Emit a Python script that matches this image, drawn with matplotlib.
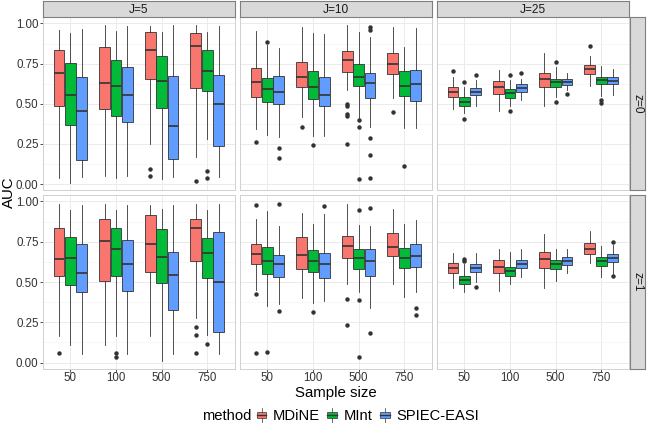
import matplotlib
matplotlib.use('Agg')
import matplotlib.pyplot as plt
from matplotlib.legend_handler import HandlerBase
from matplotlib.patches import Rectangle, Patch
from matplotlib.lines import Line2D

plt.rcParams['font.family'] = ['Liberation Sans', 'DejaVu Sans']

sample_sizes = [50, 100, 500, 750]
methods = ['MDiNE', 'MInt', 'SPIEC-EASI']
colors = ['#F8766D', '#00BA38', '#619CFF']
j_labels = ['J=5', 'J=10', 'J=25']
z_labels = ['z=0', 'z=1']
y_ticks = [0.0, 0.25, 0.5, 0.75, 1.0]
y_tick_labels = ['0.00', '0.25', '0.50', '0.75', '1.00']

# box summaries: whislo, q1, median, q3, whishi
# rows: 50 (MDiNE, MInt, SPIEC-EASI), 100 (...), 500 (...), 750 (...)
j5_z0 = [
    [0.035, 0.485, 0.689, 0.834, 0.958], [0.008, 0.367, 0.554, 0.751, 0.938], [0.046, 0.149, 0.456, 0.664, 0.963],
    [0.050, 0.467, 0.627, 0.855, 0.990], [0.040, 0.425, 0.610, 0.772, 0.954], [0.052, 0.388, 0.554, 0.730, 0.983],
    [0.249, 0.654, 0.834, 0.944, 0.983], [0.029, 0.471, 0.641, 0.797, 0.948], [0.046, 0.154, 0.363, 0.672, 0.988],
    [0.166, 0.595, 0.861, 0.938, 0.988], [0.278, 0.579, 0.705, 0.834, 0.944], [0.046, 0.237, 0.498, 0.678, 0.983],
]
j10_z0 = [
    [0.340, 0.539, 0.637, 0.724, 0.954], [0.305, 0.512, 0.589, 0.662, 0.865], [0.290, 0.496, 0.575, 0.672, 0.844],
    [0.419, 0.602, 0.664, 0.759, 0.979], [0.299, 0.527, 0.602, 0.703, 0.938], [0.299, 0.485, 0.554, 0.668, 0.932],
    [0.585, 0.699, 0.772, 0.828, 0.990], [0.409, 0.610, 0.664, 0.747, 0.944], [0.357, 0.537, 0.627, 0.689, 0.913],
    [0.533, 0.685, 0.747, 0.817, 0.975], [0.351, 0.550, 0.612, 0.703, 0.855], [0.346, 0.519, 0.620, 0.710, 0.969],
]
j25_z0 = [
    [0.465, 0.544, 0.575, 0.606, 0.668], [0.440, 0.485, 0.512, 0.539, 0.602], [0.485, 0.552, 0.575, 0.598, 0.647],
    [0.456, 0.558, 0.602, 0.641, 0.710], [0.485, 0.537, 0.564, 0.589, 0.647], [0.523, 0.573, 0.595, 0.620, 0.656],
    [0.485, 0.602, 0.653, 0.691, 0.817], [0.539, 0.606, 0.635, 0.656, 0.730], [0.585, 0.614, 0.635, 0.651, 0.693],
    [0.610, 0.685, 0.714, 0.739, 0.797], [0.548, 0.622, 0.647, 0.668, 0.734], [0.554, 0.622, 0.643, 0.668, 0.714],
]
j5_z1 = [
    [0.167, 0.538, 0.645, 0.835, 0.986], [0.109, 0.480, 0.652, 0.779, 0.944], [0.054, 0.435, 0.557, 0.738, 0.979],
    [0.109, 0.507, 0.753, 0.891, 0.986], [0.165, 0.536, 0.707, 0.837, 0.944], [0.054, 0.445, 0.610, 0.759, 0.979],
    [0.167, 0.563, 0.738, 0.918, 0.981], [0.012, 0.491, 0.656, 0.831, 0.955], [0.052, 0.326, 0.542, 0.687, 0.979],
    [0.274, 0.629, 0.835, 0.889, 0.986], [0.171, 0.522, 0.682, 0.775, 0.944], [0.052, 0.188, 0.501, 0.810, 0.986],
]
j10_z1 = [
    [0.449, 0.614, 0.672, 0.734, 0.893], [0.351, 0.548, 0.629, 0.718, 0.940], [0.361, 0.528, 0.614, 0.670, 0.845],
    [0.398, 0.581, 0.670, 0.779, 0.928], [0.367, 0.563, 0.631, 0.697, 0.858], [0.381, 0.522, 0.614, 0.682, 0.920],
    [0.485, 0.649, 0.724, 0.786, 0.986], [0.439, 0.581, 0.652, 0.705, 0.852], [0.336, 0.540, 0.631, 0.707, 0.845],
    [0.485, 0.662, 0.718, 0.806, 0.951], [0.408, 0.588, 0.649, 0.711, 0.862], [0.437, 0.594, 0.664, 0.738, 0.887],
]
j25_z1 = [
    [0.460, 0.553, 0.588, 0.621, 0.680], [0.435, 0.487, 0.515, 0.538, 0.614], [0.501, 0.563, 0.588, 0.614, 0.680],
    [0.445, 0.557, 0.594, 0.635, 0.703], [0.487, 0.536, 0.569, 0.594, 0.687], [0.528, 0.584, 0.614, 0.639, 0.707],
    [0.464, 0.590, 0.645, 0.687, 0.796], [0.507, 0.581, 0.614, 0.639, 0.705], [0.553, 0.606, 0.631, 0.656, 0.703],
    [0.619, 0.672, 0.707, 0.744, 0.816], [0.528, 0.602, 0.631, 0.656, 0.722], [0.550, 0.623, 0.652, 0.672, 0.728],
]

# outliers: (sample size, method index, AUC)
j5_z0_out = [(500, 0, 0.091), (500, 0, 0.052), (750, 0, 0.019), (750, 1, 0.083), (750, 1, 0.035)]
j10_z0_out = [(50, 0, 0.263), (50, 1, 0.886), (50, 2, 0.226), (50, 2, 0.160), (100, 0, 0.357),
              (100, 1, 0.243), (500, 0, 0.498), (500, 0, 0.485), (500, 0, 0.436), (500, 0, 0.425),
              (500, 0, 0.249), (500, 1, 0.398), (500, 1, 0.357), (500, 1, 0.029), (500, 2, 0.975),
              (500, 2, 0.959), (500, 2, 0.284), (500, 2, 0.180), (500, 2, 0.035), (750, 0, 0.446),
              (750, 1, 0.112)]
j25_z0_out = [(50, 0, 0.703), (50, 1, 0.635), (50, 1, 0.405), (50, 2, 0.676), (100, 1, 0.676),
              (100, 1, 0.454), (100, 2, 0.691), (500, 1, 0.759), (500, 1, 0.510), (500, 2, 0.560),
              (750, 0, 0.857), (750, 1, 0.523), (750, 1, 0.506)]
j5_z1_out = [(50, 0, 0.058), (100, 1, 0.058), (100, 1, 0.037), (750, 0, 0.219), (750, 0, 0.171),
             (750, 0, 0.058), (750, 1, 0.113)]
j10_z1_out = [(50, 0, 0.975), (50, 0, 0.423), (50, 0, 0.058), (50, 1, 0.066), (50, 2, 0.986),
              (50, 2, 0.320), (100, 1, 0.315), (100, 2, 0.969), (500, 0, 0.392), (500, 0, 0.233),
              (500, 1, 0.948), (500, 1, 0.388), (500, 1, 0.033), (500, 2, 0.961), (500, 2, 0.186),
              (750, 2, 0.340), (750, 2, 0.293)]
j25_z1_out = [(50, 1, 0.645), (50, 1, 0.629), (50, 2, 0.466), (750, 2, 0.746), (750, 2, 0.538)]

facets = [[(j5_z0, j5_z0_out), (j10_z0, j10_z0_out), (j25_z0, j25_z0_out)],
          [(j5_z1, j5_z1_out), (j10_z1, j10_z1_out), (j25_z1, j25_z1_out)]]

W, H = 647, 423
fig = plt.figure(figsize=(W / 100, H / 100), dpi=100)

dark = '#333333'
panel_w = 191.5
gap = 5.5
left0 = 43
row_top = [17, 195]
row_h = [173.5, 174]


def px_rect(x, y, w, h):
    return [x / W, 1 - (y + h) / H, w / W, h / H]


class BoxKey(HandlerBase):
    # legend key drawn as a tiny boxplot, like ggplot does
    def create_artists(self, legend, orig_handle, xdescent, ydescent, width, height, fontsize, trans):
        cx = -xdescent + width / 2
        y0 = -ydescent
        bw = width * 0.9
        bh = height * 0.55
        by = y0 + (height - bh) / 2
        rect = Rectangle((cx - bw / 2, by), bw, bh, facecolor=orig_handle.get_facecolor(),
                         edgecolor=dark, lw=0.5, transform=trans)
        med = Line2D([cx - bw / 2, cx + bw / 2], [by + bh / 2, by + bh / 2], color=dark, lw=1.0, transform=trans)
        w1 = Line2D([cx, cx], [y0 - 1, by], color=dark, lw=0.5, transform=trans)
        w2 = Line2D([cx, cx], [by + bh, y0 + height + 1], color=dark, lw=0.5, transform=trans)
        return [w1, w2, rect, med]


for r in range(2):
    for c in range(3):
        stats_rows, outs = facets[r][c]
        x = left0 + c * (panel_w + gap)
        ax = fig.add_axes(px_rect(x, row_top[r], panel_w, row_h[r]))
        ax.set_facecolor('white')
        for i, n in enumerate(sample_sizes):
            for k in range(3):
                lo, q1, med, q3, hi = stats_rows[i * 3 + k]
                fl = [v for (s, m, v) in outs if s == n and m == k]
                st = dict(whislo=lo, q1=q1, med=med, q3=q3, whishi=hi, fliers=fl)
                ax.bxp([st], positions=[i + (k - 1) * 0.25], widths=0.235, patch_artist=True,
                       showcaps=False, manage_ticks=False,
                       boxprops=dict(facecolor=colors[k], edgecolor=dark, lw=0.6),
                       medianprops=dict(color=dark, lw=1.2),
                       whiskerprops=dict(color=dark, lw=0.6),
                       flierprops=dict(marker='o', markerfacecolor=dark, markeredgecolor='none',
                                       markersize=3.2))
        ax.set_xlim(-0.6, 3.6)
        ax.set_ylim(-0.04, 1.04)
        ax.set_xticks(range(4))
        ax.set_yticks(y_ticks)
        ax.set_yticks([0.125, 0.375, 0.625, 0.875], minor=True)
        ax.grid(True, which='major', color='#EBEBEB', lw=0.7, zorder=0)
        ax.grid(True, which='minor', axis='y', color='#F4F4F4', lw=0.5, zorder=0)
        ax.set_axisbelow(True)
        for sp in ax.spines.values():
            sp.set_color('#D0D0D0')
            sp.set_linewidth(0.7)
        ax.tick_params(which='minor', length=0)
        ax.tick_params(which='major', length=2.0, width=0.6, color=dark, labelsize=8.3,
                       labelcolor='#333333', pad=1.2)
        ax.tick_params(axis='x', pad=0.5)
        if c == 0:
            ax.set_yticklabels(y_tick_labels)
        else:
            ax.tick_params(axis='y', length=0, labelleft=False)
        if r == 1:
            ax.set_xticklabels([str(s) for s in sample_sizes])
        else:
            ax.tick_params(axis='x', length=0, labelbottom=False)

        # top strips
        if r == 0:
            sax = fig.add_axes(px_rect(x, 1, panel_w, 16))
            sax.set_facecolor('#D9D9D9')
            sax.set_xticks([])
            sax.set_yticks([])
            for sp in sax.spines.values():
                sp.set_color('#7F7F7F')
                sp.set_linewidth(0.8)
            sax.text(0.5, 0.45, j_labels[c], ha='center', va='center', fontsize=8.6,
                     color='#1A1A1A', transform=sax.transAxes)
        # right strips
        if c == 2:
            sax = fig.add_axes(px_rect(x + panel_w + 1, row_top[r], 15.5, row_h[r]))
            sax.set_facecolor('#D9D9D9')
            sax.set_xticks([])
            sax.set_yticks([])
            for sp in sax.spines.values():
                sp.set_color('#7F7F7F')
                sp.set_linewidth(0.8)
            sax.text(0.5, 0.5, z_labels[r], ha='center', va='center', rotation=-90, fontsize=8.6,
                     color='#1A1A1A', transform=sax.transAxes)

fig.text(336 / W, 1 - 393 / H, 'Sample size', ha='center', va='center', fontsize=10.8)
fig.text(9 / W, 1 - 192 / H, 'AUC', ha='center', va='center', rotation=90, fontsize=10.8)

fig.text(202 / W, 1 - 416 / H, 'method', ha='left', va='center', fontsize=10.6)
handles = [Patch(facecolor=col) for col in colors]
fig.legend(handles, methods, loc='center left', bbox_to_anchor=(256 / W, 1 - 416 / H),
           ncol=3, frameon=False, fontsize=10.6, handler_map={Patch: BoxKey()},
           handlelength=0.75, handleheight=0.9, handletextpad=0.4, columnspacing=0.45,
           borderpad=0, borderaxespad=0)

fig.savefig('out.png', dpi=100)
